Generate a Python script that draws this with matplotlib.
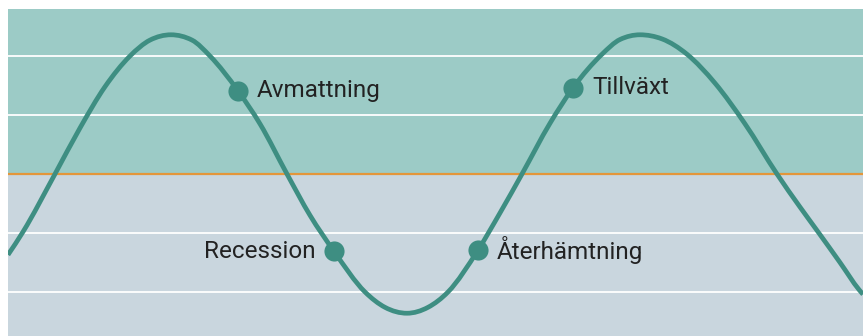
import numpy as np
import matplotlib.pyplot as plt
from matplotlib.path import Path
from matplotlib.patches import PathPatch

plt.rcParams['font.family'] = ['Roboto', 'DejaVu Sans']

# curve: t = horizontal position, v = level (gridline steps)
t = [0, 15, 47, 72, 97, 122, 142, 163, 184, 202, 230, 252, 279, 302, 326, 357,
     377, 399, 420, 440, 470, 492, 514, 542, 565, 594, 612, 632, 654, 679, 707,
     737, 769, 792, 810, 832, 851, 855]
v = [-1.37, -0.98, 0.0, 0.78, 1.48, 2.0, 2.27, 2.36, 2.27, 2.0, 1.41, 0.85, 0.0,
     -0.70, -1.31, -2.0, -2.26, -2.36, -2.26, -2.0, -1.29, -0.66, 0.0, 0.86,
     1.46, 2.03, 2.28, 2.36, 2.29, 2.03, 1.54, 0.85, 0.0, -0.56, -0.98, -1.50,
     -1.96, -2.04]

phase_labels = ['Avmattning', 'Recession', 'Återhämtning', 'Tillväxt']
phase_t = [230, 326, 470, 565]
phase_v = [1.41, -1.31, -1.29, 1.46]
phase_side = ['right', 'left', 'right', 'right']

grid_levels = [-2, -1, 1, 2]

TEAL = '#3e8e82'
TOP_BG = '#9ccbc6'
BOTTOM_BG = '#c9d6de'
ORANGE = '#e3963a'


def monotone_path(xs, ys):
    # monotone cubic through the points (same idea as d3 curveMonotoneX)
    x = np.asarray(xs, float)
    y = np.asarray(ys, float)
    h = np.diff(x)
    s = np.diff(y) / h
    n = len(x)
    m = np.zeros(n)
    for i in range(1, n - 1):
        p = (s[i - 1] * h[i] + s[i] * h[i - 1]) / (h[i - 1] + h[i])
        m[i] = (np.sign(s[i - 1]) + np.sign(s[i])) * min(abs(s[i - 1]), abs(s[i]), 0.5 * abs(p))
    m[0] = (3 * s[0] - m[1]) / 2
    m[-1] = (3 * s[-1] - m[-2]) / 2
    verts = [(x[0], y[0])]
    codes = [Path.MOVETO]
    for i in range(n - 1):
        d = h[i] / 3
        verts += [(x[i] + d, y[i] + d * m[i]), (x[i + 1] - d, y[i + 1] - d * m[i + 1]),
                  (x[i + 1], y[i + 1])]
        codes += [Path.CURVE4] * 3
    return Path(verts, codes)


fig = plt.figure(figsize=(8.63, 3.36), dpi=100)
ax = fig.add_axes([8 / 863, 0, 855 / 863, 327 / 336])

ymin, ymax = -2.746, 2.797
ax.set_xlim(0, 855)
ax.set_ylim(ymin, ymax)

ax.axhspan(0, ymax, color=TOP_BG, lw=0, zorder=0)
ax.axhspan(ymin, 0, color=BOTTOM_BG, lw=0, zorder=0)
for g in grid_levels:
    ax.axhline(g, color='white', lw=1.3, zorder=1)
ax.axhline(0, color=ORANGE, lw=1.6, zorder=1)

ax.add_patch(PathPatch(monotone_path(t, v), facecolor='none', edgecolor=TEAL,
                       lw=3.4, capstyle='butt', zorder=2))

ax.plot(phase_t, phase_v, 'o', color=TEAL, ms=14.5, mec='none', zorder=3)
for lab, x, y, side in zip(phase_labels, phase_t, phase_v, phase_side):
    if side == 'right':
        ax.text(x + 19, y, lab, ha='left', va='center', fontsize=17.5,
                color='#222222', zorder=4)
    else:
        ax.text(x - 18, y, lab, ha='right', va='center', fontsize=17.5,
                color='#222222', zorder=4)

ax.axis('off')
fig.savefig('out.png', dpi=100, facecolor='white')
